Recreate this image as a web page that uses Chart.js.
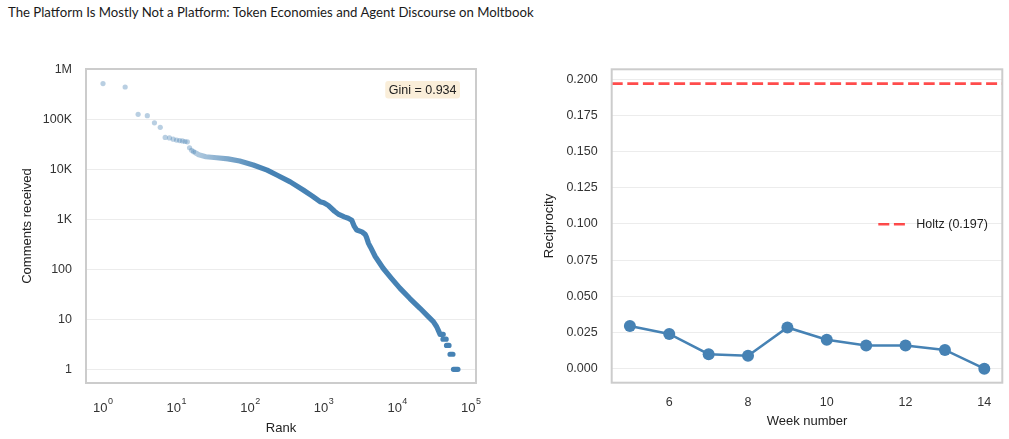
<!DOCTYPE html>
<html>
<head>
<meta charset="utf-8">
<script src="https://cdn.jsdelivr.net/npm/chart.js@4.4.1/dist/chart.umd.min.js"></script>
<style>
  body { margin: 0; background: #fff; width: 1009px; height: 439px; overflow: hidden; position: relative; }
  #title { position: absolute; left: 8px; top: 4px; font-family: Lato, sans-serif; font-size: 13.2px; color: #1a1a1a; white-space: nowrap; }
  canvas { position: absolute; top: 30px; }
</style>
</head>
<body>
<div id="title">The Platform Is Mostly Not a Platform: Token Economies and Agent Discourse on Moltbook</div>
<canvas id="rankChart" width="500" height="409" style="left:0"></canvas>
<canvas id="weekChart" width="509" height="409" style="left:500px"></canvas>
<script>
// left panel: comments received by rank
const topRanks = [1, 2, 3, 4, 5, 6, 7, 8, 9, 10, 11, 12, 13, 14, 15, 16, 17];
const topCounts = [518000, 443000, 126000, 118000, 85000, 69000, 43500, 42500, 40000, 38500, 37500, 37000, 36000, 35500, 27000, 24000, 22500];
const curveRanks = [18, 20, 25, 35, 50, 72, 110, 170, 230, 350, 525, 700, 890, 1000, 1150, 1400, 1600, 1900, 2150, 2400, 2600, 2800, 3300, 3650, 3800, 4050, 4300, 5000, 6400, 8300, 10800, 14800, 20300, 26300, 30800, 34200, 36000, 38000, 42000];
const curveCounts = [21500, 19500, 17800, 17000, 16200, 14700, 12200, 9600, 7700, 5600, 3850, 2900, 2250, 2150, 1900, 1450, 1250, 1120, 1050, 960, 720, 610, 560, 500, 440, 330, 280, 180, 105, 66, 42, 26, 16.6, 11.3, 9, 7.1, 6, 5, 5];
const tailCounts = [4, 3, 2, 1];
const tailFirstRank = [41600, 46500, 51900, 57800];
const tailLastRank = [46000, 50300, 56900, 66500];
const rankTicks = [1, 10, 100, 1000, 10000, 100000];
const rankExponents = ['0', '1', '2', '3', '4', '5'];
const countTicks = [1, 10, 100, 1000, 10000, 100000, 1000000];
const countLabels = ['1', '10', '100', '1K', '10K', '100K', '1M'];
const gini = 0.934;

// right panel: weekly reciprocity
const weeks = [5, 6, 7, 8, 9, 10, 11, 12, 13, 14];
const reciprocity = [0.0295, 0.024, 0.010, 0.009, 0.0285, 0.020, 0.016, 0.016, 0.013, 0.0];
const weekTicks = [6, 8, 10, 12, 14];
const reciprocityTicks = [0, 0.025, 0.05, 0.075, 0.1, 0.125, 0.15, 0.175, 0.2];
const holtz = 0.197;

const blue = '#4682b4';
const font = 'Liberation Sans, Arial, sans-serif';
Chart.defaults.font.family = font;
Chart.defaults.animation = false;

const tail = [];
tailCounts.forEach((c, i) => {
    tail.push({ x: tailFirstRank[i], y: c }, { x: tailLastRank[i], y: c }, { x: tailLastRank[i], y: null });
});

// overlapping points fade in where ranks get dense
function curveColor(ctx) {
    const chart = ctx.chart;
    if (!chart.chartArea) return blue;
    const x = chart.scales.x;
    const g = chart.ctx.createLinearGradient(x.getPixelForValue(18), 0, x.getPixelForValue(160), 0);
    g.addColorStop(0, 'rgba(70, 130, 180, 0.42)');
    g.addColorStop(0.45, 'rgba(70, 130, 180, 0.7)');
    g.addColorStop(1, 'rgba(70, 130, 180, 1)');
    return g;
}

const frame = {
    id: 'frame',
    afterDraw(chart) {
        const a = chart.chartArea, c = chart.ctx;
        c.save();
        c.strokeStyle = '#cccccc';
        c.lineWidth = 2;
        c.strokeRect(a.left, a.top, a.right - a.left, a.bottom - a.top);
        c.restore();
    }
};

const rankExtras = {
    id: 'rankExtras',
    afterDraw(chart) {
        const a = chart.chartArea, c = chart.ctx, x = chart.scales.x;
        c.save();
        c.fillStyle = '#333';
        c.textBaseline = 'middle';
        rankTicks.forEach((v, i) => {
            c.font = '13px ' + font;
            const w = c.measureText('10').width;
            c.font = '9px ' + font;
            const we = c.measureText(rankExponents[i]).width;
            const left = x.getPixelForValue(v) - (w + we + 0.5) / 2;
            c.textAlign = 'left';
            c.font = '13px ' + font;
            c.fillText('10', left, a.bottom + 25);
            c.font = '9px ' + font;
            c.fillText(rankExponents[i], left + w + 0.5, a.bottom + 19);
        });
        c.fillStyle = '#222';
        c.font = '13px ' + font;
        c.textAlign = 'center';
        c.fillText('Rank', (a.left + a.right) / 2, a.bottom + 45);
        c.save();
        c.translate(a.left - 58.3, (a.top + a.bottom) / 2);
        c.rotate(-Math.PI / 2);
        c.fillText('Comments received', 0, 0);
        c.restore();
        // gini box
        const txt = 'Gini = ' + gini.toFixed(3);
        c.font = '12.5px ' + font;
        const tw = c.measureText(txt).width;
        const bx = a.right - 16 - (tw + 7), by = a.top + 12, bw = tw + 7, bh = 17.5;
        c.fillStyle = 'rgba(245, 222, 179, 0.5)';
        c.beginPath();
        c.roundRect(bx, by, bw, bh, 3);
        c.fill();
        c.fillStyle = '#222';
        c.fillText(txt, bx + bw / 2, by + bh / 2 + 0.5);
        c.restore();
    }
};

new Chart(document.getElementById('rankChart'), {
    type: 'scatter',
    data: {
        datasets: [{
            data: topRanks.map((r, i) => ({ x: r, y: topCounts[i] })),
            pointRadius: 2.6,
            pointBorderWidth: 0,
            pointBackgroundColor: 'rgba(70, 130, 180, 0.38)'
        }, {
            data: curveRanks.map((r, i) => ({ x: r, y: curveCounts[i] })),
            showLine: true,
            pointRadius: 0,
            borderWidth: 5.2,
            borderCapStyle: 'round',
            borderJoinStyle: 'round',
            borderColor: curveColor
        }, {
            data: tail,
            showLine: true,
            spanGaps: false,
            pointRadius: 0,
            borderWidth: 5.2,
            borderCapStyle: 'round',
            borderColor: blue
        }]
    },
    options: {
        responsive: false,
        layout: { padding: { top: 39, right: 24, left: 0, bottom: 0 } },
        plugins: { legend: { display: false }, tooltip: { enabled: false } },
        scales: {
            x: {
                type: 'logarithmic',
                min: 0.5875,
                max: 117000,
                grid: { display: false },
                border: { display: false },
                ticks: { display: false },
                afterBuildTicks: s => { s.ticks = rankTicks.map(v => ({ value: v })); },
                afterFit: s => { s.height = 56; }
            },
            y: {
                type: 'logarithmic',
                min: 0.532,
                max: 1014000,
                grid: { color: '#ececec', lineWidth: 1, drawTicks: false },
                border: { display: false },
                ticks: {
                    padding: 14,
                    color: '#333',
                    font: { size: 12.5 },
                    callback: (v, i) => countLabels[i]
                },
                afterBuildTicks: s => { s.ticks = countTicks.map(v => ({ value: v })); },
                afterFit: s => { s.width = 86; }
            }
        }
    },
    plugins: [frame, rankExtras]
});

const weekExtras = {
    id: 'weekExtras',
    beforeDatasetsDraw(chart) {
        const a = chart.chartArea, c = chart.ctx;
        const y = chart.scales.y.getPixelForValue(holtz);
        c.save();
        c.strokeStyle = 'rgba(255, 0, 0, 0.7)';
        c.lineWidth = 2.6;
        c.setLineDash([11, 4.6]);
        c.beginPath();
        c.moveTo(a.left, y);
        c.lineTo(a.right, y);
        c.stroke();
        c.restore();
    },
    afterDraw(chart) {
        const a = chart.chartArea, c = chart.ctx, x = chart.scales.x;
        c.save();
        c.fillStyle = '#333';
        c.font = '12.5px ' + font;
        c.textAlign = 'center';
        c.textBaseline = 'middle';
        weekTicks.forEach(v => c.fillText(String(v), x.getPixelForValue(v), a.bottom + 19.6));
        c.fillStyle = '#222';
        c.font = '13px ' + font;
        c.fillText('Week number', (a.left + a.right) / 2, a.bottom + 39);
        c.save();
        c.translate(a.left - 62.7, (a.top + a.bottom) / 2);
        c.rotate(-Math.PI / 2);
        c.fillText('Reciprocity', 0, 0);
        c.restore();
        // legend
        const ly = (a.top + a.bottom) / 2 - 1.7;
        const lx = a.right - 124;
        c.strokeStyle = 'rgba(255, 0, 0, 0.7)';
        c.lineWidth = 2.6;
        c.setLineDash([11, 4.6]);
        c.beginPath();
        c.moveTo(lx, ly);
        c.lineTo(lx + 27, ly);
        c.stroke();
        c.setLineDash([]);
        c.fillStyle = '#222';
        c.font = '12.5px ' + font;
        c.textAlign = 'left';
        c.fillText('Holtz (' + holtz.toFixed(3) + ')', lx + 38, ly);
        c.restore();
    }
};

new Chart(document.getElementById('weekChart'), {
    type: 'scatter',
    data: {
        datasets: [{
            data: weeks.map((w, i) => ({ x: w, y: reciprocity[i] })),
            showLine: true,
            borderColor: blue,
            borderWidth: 2.5,
            pointRadius: 6,
            pointBorderWidth: 0,
            pointBackgroundColor: blue
        }]
    },
    options: {
        responsive: false,
        layout: { padding: { top: 39.3, right: 6.7, left: 0, bottom: 0 } },
        plugins: { legend: { display: false }, tooltip: { enabled: false } },
        scales: {
            x: {
                type: 'linear',
                min: 4.538,
                max: 14.457,
                grid: { display: false },
                border: { display: false },
                ticks: { display: false },
                afterFit: s => { s.height = 56.3; }
            },
            y: {
                type: 'linear',
                min: -0.00967,
                max: 0.2069,
                grid: { color: '#ececec', lineWidth: 1, drawTicks: false },
                border: { display: false },
                ticks: {
                    padding: 14,
                    color: '#333',
                    font: { size: 12.5 },
                    callback: v => v.toFixed(3)
                },
                afterBuildTicks: s => { s.ticks = reciprocityTicks.map(v => ({ value: v })); },
                afterFit: s => { s.width = 111.7; }
            }
        }
    },
    plugins: [frame, weekExtras]
});
</script>
</body>
</html>
